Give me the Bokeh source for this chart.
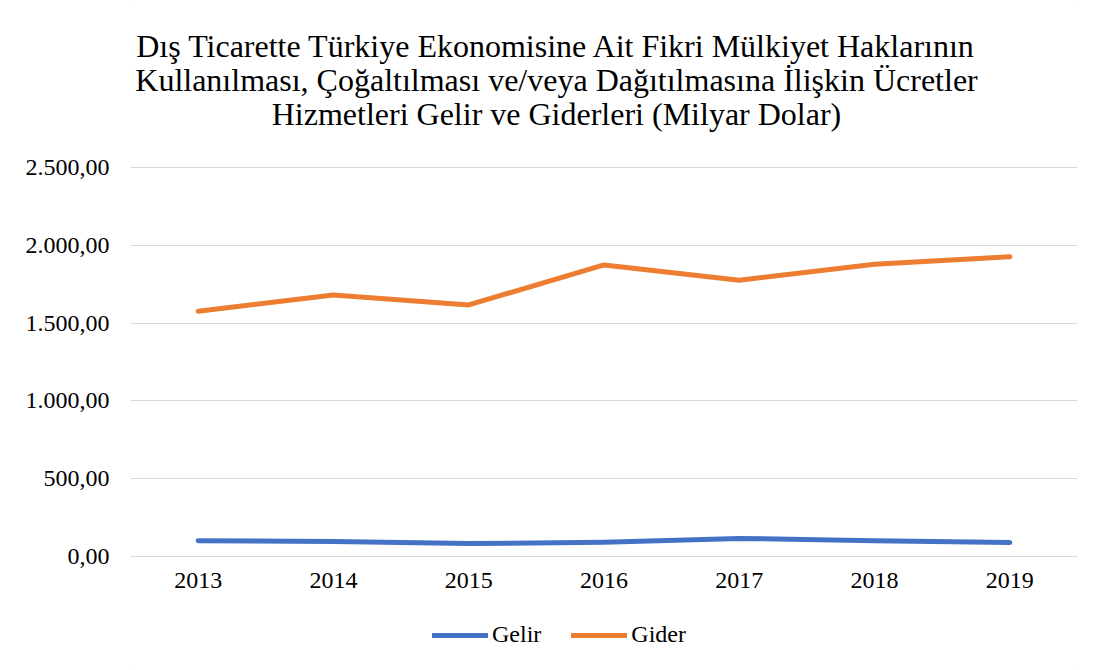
from bokeh.plotting import figure
from bokeh.models import FixedTicker, Label, Legend, LegendItem
from bokeh.embed import file_html
from bokeh.resources import INLINE

years = ["2013", "2014", "2015", "2016", "2017", "2018", "2019"]
gelir = [102, 96, 83, 92, 116, 102, 90]
gider = [1576, 1680, 1617, 1874, 1776, 1878, 1926]
y_ticks = [0, 500, 1000, 1500, 2000, 2500]
y_tick_labels = ["0,00", "500,00", "1.000,00", "1.500,00", "2.000,00", "2.500,00"]
title_lines = [
    "Dış Ticarette Türkiye Ekonomisine Ait Fikri Mülkiyet Haklarının",
    "Kullanılması, Çoğaltılması ve/veya Dağıtılmasına İlişkin Ücretler",
    "Hizmetleri Gelir ve Giderleri (Milyar Dolar)",
]
series_names = ["Gelir", "Gider"]
colors = ["#4472C4", "#ED7D31"]

FONT = "Liberation Serif"
FONT_Q = "'Liberation Serif', serif"
W, H = 1098, 668
# frame covers the full height; value 0 sits at 556 px and 2500 at 167 px from the top
PX_PER_UNIT = (556 - 167) / 2500
y_lo = -(H - 556) / PX_PER_UNIT
y_hi = 556 / PX_PER_UNIT

p = figure(width=W, height=H, x_range=years, y_range=(y_lo, y_hi),
           output_backend="svg", toolbar_location=None,
           min_border_left=130, min_border_right=21,
           min_border_top=0, min_border_bottom=0)
p.title.visible = False
p.styles = {"outline": "1px solid #d9d9d9", "outline-offset": "-2px"}
p.outline_line_color = None
p.x_range.range_padding = 0

r1 = p.line(years, gelir, line_width=5, line_color=colors[0], line_cap="round", line_join="round")
r2 = p.line(years, gider, line_width=5, line_color=colors[1], line_cap="round", line_join="round")

p.yaxis.ticker = FixedTicker(ticks=y_ticks)
p.yaxis.major_label_overrides = {t: l for t, l in zip(y_ticks, y_tick_labels)}
for ax in (p.xaxis[0], p.yaxis[0]):
    ax.major_label_text_font = FONT_Q
    ax.major_label_text_font_size = "24px"
    ax.major_label_text_color = "#000000"
    ax.major_tick_line_color = None
    ax.minor_tick_line_color = None
p.yaxis.axis_line_color = None
p.yaxis.major_label_standoff = 15
p.xaxis.fixed_location = 0
p.xaxis.axis_line_color = "#d9d9d9"
p.xaxis.major_label_standoff = 10
p.xgrid.grid_line_color = None
p.ygrid.grid_line_color = "#d9d9d9"
p.ygrid.ticker = FixedTicker(ticks=y_ticks)

for i, t in enumerate(title_lines):
    p.add_layout(Label(x=426, y=H - 45 - 34 * i, x_units="screen", y_units="screen",
                       text=t, text_align="center", text_baseline="middle",
                       text_font=FONT, text_font_size="32px", text_color="#000000"))

legend = Legend(items=[LegendItem(label=series_names[0], renderers=[r1]),
                       LegendItem(label=series_names[1], renderers=[r2])],
                orientation="horizontal", location=(302, 20),
                padding=0, margin=0, spacing=30, glyph_width=56, glyph_height=20,
                label_standoff=4, border_line_color=None, background_fill_alpha=0,
                label_text_font=FONT_Q, label_text_font_size="24px", label_text_color="#000000")
p.add_layout(legend)

open("out.html", "w").write(file_html(p, INLINE))
